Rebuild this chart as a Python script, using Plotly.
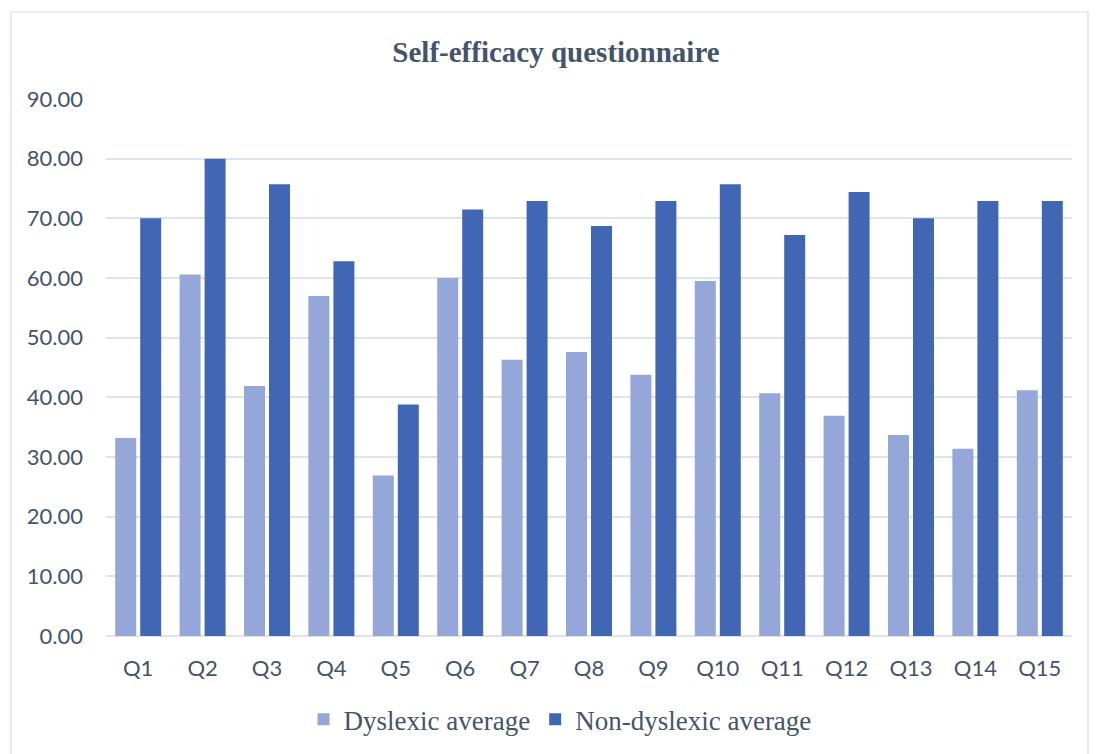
import plotly.graph_objects as go

categories = ["Q1", "Q2", "Q3", "Q4", "Q5", "Q6", "Q7", "Q8", "Q9", "Q10",
              "Q11", "Q12", "Q13", "Q14", "Q15"]
dyslexic_avg = [33.2, 60.6, 41.9, 57.0, 26.9, 60.0, 46.3, 47.6, 43.8, 59.5,
                40.7, 36.9, 33.7, 31.4, 41.2]
non_dyslexic_avg = [70.0, 80.0, 75.7, 62.8, 38.8, 71.5, 72.9, 68.7, 72.9, 75.7,
                    67.2, 74.4, 70.0, 72.9, 72.9]
y_ticks = [0, 10, 20, 30, 40, 50, 60, 70, 80, 90]

text_color = "#44546A"
grid_color = "#DEE2E9"

# page body has an 8px margin; layout compensates for it
L, T, PW, PH = 98, 91, 966, 537
W, H = 1101, 754

fig = go.Figure()
fig.add_trace(go.Bar(
    x=categories, y=dyslexic_avg, name="Dyslexic average",
    marker=dict(color="#95A6D8", line=dict(width=0)),
))
fig.add_trace(go.Bar(
    x=categories, y=non_dyslexic_avg, name="Non-dyslexic average",
    marker=dict(color="#4167B4", line=dict(width=0)),
))

fig.update_layout(
    width=W, height=H,
    paper_bgcolor="white", plot_bgcolor="white",
    margin=dict(l=L, r=W - L - PW, t=T, b=H - T - PH, pad=0),
    barmode="group", bargap=0.224, bargroupgap=0.16,
    title=dict(
        text="<b>Self-efficacy questionnaire</b>",
        x=548 / W, xref="container", xanchor="center",
        y=1 - 44 / H, yref="container", yanchor="middle",
        font=dict(family="Liberation Serif", size=29, color=text_color),
    ),
    legend=dict(
        orientation="h", x=0.47, xanchor="center", y=-0.156, yanchor="middle",
        font=dict(family="Liberation Serif", size=27, color=text_color),
        traceorder="normal",
    ),
    font=dict(family="Lato", color=text_color),
    showlegend=True,
)

fig.update_yaxes(
    range=[0, 90], tickvals=y_ticks, tickformat=".2f",
    showgrid=True, gridcolor=grid_color, gridwidth=1.5,
    zeroline=True, zerolinecolor=grid_color, zerolinewidth=1.5,
    showline=False, ticks="", ticklabelstandoff=22,
    tickfont=dict(family="Lato", size=22, color=text_color),
)
fig.update_xaxes(
    showgrid=False, showline=False, ticks="", ticklabelstandoff=17,
    tickfont=dict(family="Lato", size=22, color=text_color),
)

# outer chart border
fig.add_shape(
    type="rect", xref="paper", yref="paper",
    x0=(3 - L) / PW, x1=(1080 - L) / PW,
    y0=-0.4, y1=(PH + T - 4) / PH,
    line=dict(color="#D9DDE3", width=1.2), fillcolor="rgba(0,0,0,0)",
    layer="below",
)

fig.write_html("out.html")
